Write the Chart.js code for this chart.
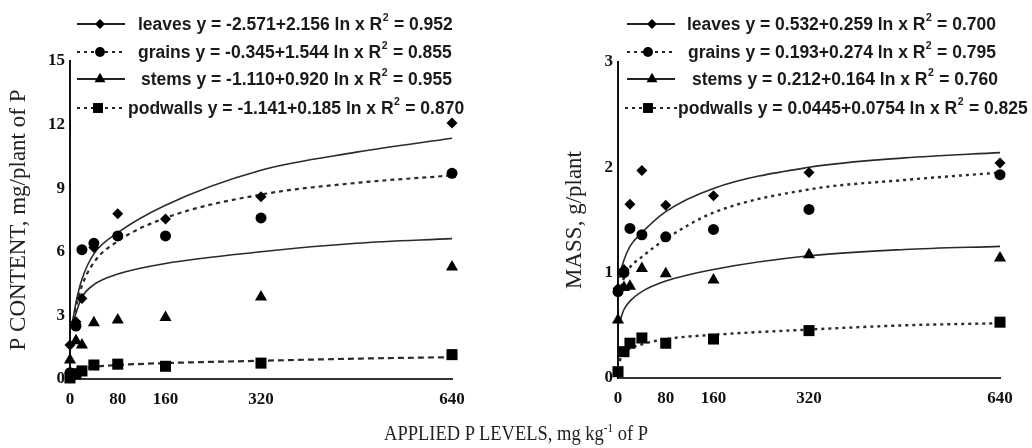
<!DOCTYPE html>
<html><head><meta charset="utf-8">
<script src="https://cdn.jsdelivr.net/npm/chart.js@4.4.0/dist/chart.umd.min.js"></script>
<style>
body{margin:0;background:#fff;width:1032px;height:448px;overflow:hidden;position:relative;}
.box{position:absolute;top:0;width:516px;height:448px;}
#xt{position:absolute;left:0;width:1032px;top:422px;text-align:center;font-family:"Liberation Serif";font-size:18.5px;color:#222;transform:scaleY(1.15);transform-origin:center top;white-space:nowrap;}
#xt sup{font-size:11px;vertical-align:7px;line-height:0;}
</style></head>
<body>
<div class="box" style="left:0"><canvas id="c1" width="516" height="448"></canvas></div>
<div class="box" style="left:516px"><canvas id="c2" width="516" height="448"></canvas></div>
<div id="xt">APPLIED P LEVELS, mg kg<sup>-1</sup> of P</div>
<script>
// ---- data ----
const levels = [0, 10, 20, 40, 80, 160, 320, 640];
const xTicks = [0, 80, 160, 320, 640];
const fitLevels = [3, 5, 10, 20, 40, 80, 160, 320, 480, 640];

// Left panel: P content (mg/plant of P)
const contentLeaves   = [1.6, 2.7, 3.8, 6.2, 7.8, 7.55, 8.6, 12.07];
const contentGrains   = [0.3, 2.5, 6.1, 6.4, 6.75, 6.75, 7.6, 9.7];
const contentStems    = [0.9, 1.8, 1.6, 2.65, 2.78, 2.9, 3.87, 5.28];
const contentPodwalls = [0.05, 0.25, 0.38, 0.66, 0.7, 0.6, 0.75, 1.15];
const contentLeavesFit   = [2.4, 2.8, 3.6, 4.7, 5.9, 6.9, 8.2, 9.85, 10.7, 11.36];
const contentGrainsFit   = [2.4, 2.7, 3.4, 4.4, 5.5, 6.5, 7.6, 8.7, 9.25, 9.6];
const contentStemsFit    = [2.4, 2.6, 3.1, 3.85, 4.45, 4.95, 5.45, 6.0, 6.4, 6.62];
const contentPodwallsFit = [0.05, 0.15, 0.3, 0.45, 0.57, 0.66, 0.75, 0.86, 0.96, 1.03];
const contentYTicks = {min: 0, max: 15, step: 3};
const contentLegend = [
  'leaves y = -2.571+2.156 ln x R² = 0.952',
  'grains y = -0.345+1.544 ln x R² = 0.855',
  'stems y = -1.110+0.920 ln x R² = 0.955',
  'podwalls y = -1.141+0.185 ln x R² = 0.870'
];

// Right panel: mass (g/plant)
const massLeaves   = [0.85, 1.03, 1.65, 1.97, 1.64, 1.73, 1.95, 2.04];
const massGrains   = [0.82, 1.0, 1.42, 1.36, 1.34, 1.41, 1.6, 1.93];
const massStems    = [0.55, 0.86, 0.87, 1.04, 0.99, 0.93, 1.17, 1.14];
const massPodwalls = [0.06, 0.25, 0.33, 0.38, 0.33, 0.37, 0.45, 0.53];
const massLeavesFit   = [0.95, 1.02, 1.12, 1.25, 1.38, 1.58, 1.8, 2.0, 2.09, 2.14];
const massGrainsFit   = [0.8, 0.86, 0.95, 1.05, 1.15, 1.32, 1.57, 1.79, 1.88, 1.95];
const massStemsFit    = [0.52, 0.57, 0.65, 0.73, 0.82, 0.92, 1.03, 1.16, 1.22, 1.25];
const massPodwallsFit = [0.16, 0.2, 0.24, 0.28, 0.32, 0.37, 0.41, 0.46, 0.5, 0.52];
const massYTicks = {min: 0, max: 3, step: 1};
const massLegend = [
  'leaves y = 0.532+0.259 ln x R² = 0.700',
  'grains y = 0.193+0.274 ln x R² = 0.795',
  'stems y = 0.212+0.164 ln x R² = 0.760',
  'podwalls y = 0.0445+0.0754 ln x R² = 0.825'
];

// ---- helpers ----
const pts = (xs, ys) => xs.map((x, i) => ({x, y: ys[i]}));
const styles = ['rectRot', 'circle', 'triangle', 'rect'];
const radii = [5.5, 5.5, 7, 7.8];

function pointDs(ys, k) {
  return {type: 'scatter', data: pts(levels, ys), pointStyle: styles[k], pointRadius: radii[k],
    pointBackgroundColor: '#000', pointBorderWidth: 0, showLine: false, clip: false};
}
function fitDs(ys, dash, w) {
  return {type: 'line', data: pts(fitLevels, ys), borderColor: '#2a2a2a', borderWidth: w,
    borderDash: dash, pointRadius: 0, cubicInterpolationMode: 'monotone', fill: false, clip: false};
}

const legendPlugin = {
  id: 'eqLegend',
  afterDraw(chart, args, o) {
    const ctx = chart.ctx;
    ctx.save();
    o.items.forEach((text, i) => {
      const y = o.ys[i];
      const dash = o.dashes[i];
      ctx.strokeStyle = '#222';
      ctx.lineWidth = dash.length ? 2.2 : 1.8;
      ctx.setLineDash(dash);
      ctx.beginPath(); ctx.moveTo(o.x0[i], y); ctx.lineTo(o.x1[i], y); ctx.stroke();
      ctx.setLineDash([]);
      ctx.fillStyle = '#000';
      Chart.helpers.drawPoint(ctx, {pointStyle: styles[i], radius: radii[i] * 0.9, borderWidth: 0, rotation: 0}, o.mx[i], y);
      ctx.fillStyle = '#1a1a1a';
      ctx.textBaseline = 'middle';
      ctx.textAlign = 'left';
      const parts = text.split('²');
      let x = o.tx[i];
      ctx.font = o.font;
      ctx.fillText(parts[0], x, y + 1);
      x += ctx.measureText(parts[0]).width;
      ctx.font = o.supFont;
      ctx.fillText('2', x + 0.5, y - 6);
      x += ctx.measureText('2').width + 1;
      ctx.font = o.font;
      ctx.fillText(parts[1], x, y + 1);
    });
    ctx.restore();
  }
};

function makeChart(id, sets, yT, title, cfg) {
  return new Chart(document.getElementById(id), {
    type: 'scatter',
    data: {datasets: sets},
    options: {
      responsive: false, animation: false,
      layout: {padding: cfg.padding},
      plugins: {legend: {display: false}, tooltip: {enabled: false}, eqLegend: cfg.legend},
      scales: {
        x: {type: 'linear', min: 0, max: 640,
          afterBuildTicks: s => { s.ticks = xTicks.map(v => ({value: v})); },
          afterFit: s => { s.height = 30; },
          grid: {display: false, drawTicks: false},
          border: {display: true, color: '#333', width: 2},
          ticks: {font: {family: 'Liberation Serif', weight: 'bold', size: 17}, color: '#111', padding: 10, autoSkip: false, maxRotation: 0}
        },
        y: {min: yT.min, max: yT.max,
          afterFit: s => { s.width = cfg.yWidth; },
          grid: {display: false, drawTicks: false},
          border: {display: true, color: '#111', width: 2},
          ticks: {stepSize: yT.step, font: {family: 'Liberation Serif', weight: 'bold', size: 17}, color: '#111', padding: 5},
          title: {display: true, text: title, color: '#222', font: {family: 'Liberation Serif', size: 23}, padding: {top: cfg.titlePad, bottom: 0}}
        }
      }
    },
    plugins: [legendPlugin]
  });
}

const legendFont = 'bold 17.5px "Liberation Sans"';
const supFont = 'bold 10.5px "Liberation Sans"';

makeChart('c1', [
  pointDs(contentLeaves, 0), pointDs(contentGrains, 1), pointDs(contentStems, 2), pointDs(contentPodwalls, 3),
  fitDs(contentLeavesFit, [], 1.6), fitDs(contentGrainsFit, [4, 4], 2.2),
  fitDs(contentStemsFit, [], 1.6), fitDs(contentPodwallsFit, [6, 4], 2.2)
], contentYTicks, 'P CONTENT, mg/plant of P', {
  padding: {left: 0, top: 61, right: 64, bottom: 39}, yWidth: 70, titlePad: 5,
  legend: {items: contentLegend, ys: [24, 52, 79, 108], x0: [77, 77, 77, 77], x1: [125, 125, 125, 126],
    mx: [100, 100, 100, 98], tx: [138, 138, 141, 128], dashes: [[], [3, 4], [], [3, 4]], font: legendFont, supFont: supFont}
});

makeChart('c2', [
  pointDs(massLeaves, 0), pointDs(massGrains, 1), pointDs(massStems, 2), pointDs(massPodwalls, 3),
  fitDs(massLeavesFit, [], 1.6), fitDs(massGrainsFit, [3, 4], 2.4),
  fitDs(massStemsFit, [], 1.6), fitDs(massPodwallsFit, [3, 4], 2.4)
], massYTicks, 'MASS, g/plant', {
  padding: {left: 0, top: 62, right: 32, bottom: 40}, yWidth: 102, titlePad: 45,
  legend: {items: massLegend, ys: [24, 52, 79, 108], x0: [111, 111, 111, 109], x1: [159, 159, 159, 162],
    mx: [136, 132, 136, 132], tx: [171, 172, 176, 162], dashes: [[], [3, 4], [], [3, 4]], font: legendFont, supFont: supFont}
});
</script>
</body></html>
